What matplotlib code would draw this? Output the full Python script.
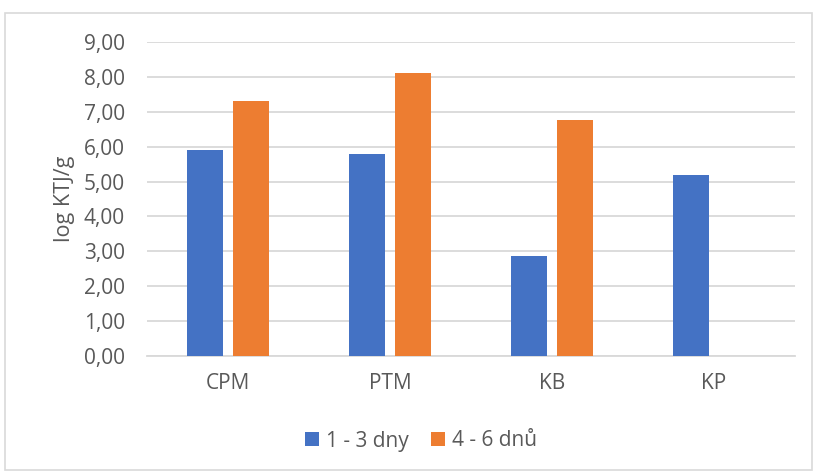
import matplotlib
matplotlib.use("Agg")
import matplotlib.pyplot as plt
import numpy as np
from matplotlib.patches import Rectangle

categories = ["CPM", "PTM", "KB", "KP"]
series_names = ["1 - 3 dny", "4 - 6 dnů"]
s1 = [5.90, 5.79, 2.88, 5.19]
s2 = [7.31, 8.10, 6.76, 0.0]
yticks = [0, 1, 2, 3, 4, 5, 6, 7, 8, 9]
ytick_labels = ["0,00", "1,00", "2,00", "3,00", "4,00", "5,00", "6,00", "7,00", "8,00", "9,00"]
colors = ["#4472C4", "#ED7D31"]

plt.rcParams['font.family'] = ['Open Sans', 'DejaVu Sans']
txt = "#595959"
fs = 15

fig = plt.figure(figsize=(8.13, 4.72), dpi=100)
fig.patches.append(Rectangle((5/813, 1-470/472), 1-6/813, (470-13)/472, transform=fig.transFigure,
                             fill=False, edgecolor="#d9d9d9", linewidth=1.2))
ax = fig.add_axes([147/813, 1-356/472, (795-147)/813, (356-42)/472])

x = np.arange(len(categories))
w = 0.222
off = 0.142
ax.bar(x - off, s1, w, color=colors[0], label=series_names[0], zorder=3)
ax.bar(x + off, s2, w, color=colors[1], label=series_names[1], zorder=3)

ax.set_xlim(-0.5, len(categories) - 0.5)
ax.set_ylim(0, 9)
ax.set_yticks(yticks)
ax.set_yticklabels(ytick_labels)
ax.set_xticks(x)
ax.set_xticklabels(categories)
ax.yaxis.grid(True, color="#d9d9d9", linewidth=1.3, zorder=0)
for s in ["top", "right", "left"]:
    ax.spines[s].set_visible(False)
ax.spines["bottom"].set_color("#d9d9d9")
ax.spines["bottom"].set_linewidth(1.3)
ax.tick_params(axis="both", length=0, colors=txt, labelsize=fs)
ax.tick_params(axis="y", pad=16)
ax.tick_params(axis="x", pad=12)
ax.set_ylabel("log KTJ/g", color=txt, fontsize=15.5, labelpad=6)

leg = fig.legend(loc="center", bbox_to_anchor=(421/813, 1-441/472), ncol=2, frameon=False,
                 fontsize=fs, handlelength=0.67, handleheight=0.67, columnspacing=1.1, handletextpad=0.3)
for t in leg.get_texts():
    t.set_color(txt)

fig.savefig("out.png", dpi=100)
